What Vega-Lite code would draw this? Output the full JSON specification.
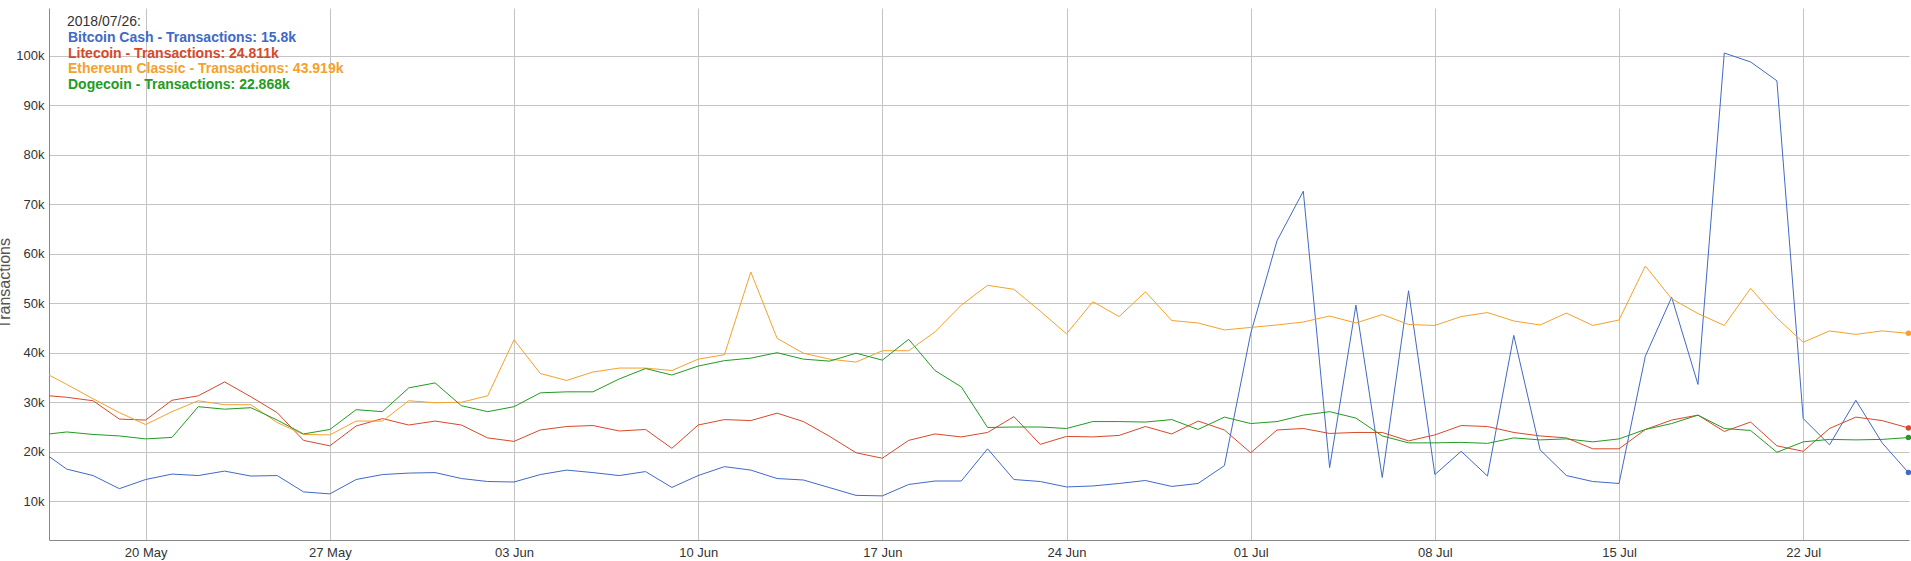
{
 "$schema": "https://vega.github.io/schema/vega-lite/v6.json",
 "width": 1860,
 "height": 532,
 "autosize": {"type": "none"},
 "padding": {"left": 49, "top": 8, "right": 2, "bottom": 21},
 "background": "white",
 "config": {"view": {"stroke": null}, "font": "Liberation Sans"},
 "data": {"values": [
  {"date":"2018-05-16","bch":20300,"ltc":31450,"etc":36400,"doge":23400},
  {"date":"2018-05-17","bch":16500,"ltc":31000,"etc":33600,"doge":24000},
  {"date":"2018-05-18","bch":15200,"ltc":30300,"etc":30700,"doge":23500},
  {"date":"2018-05-19","bch":12550,"ltc":26600,"etc":27900,"doge":23200},
  {"date":"2018-05-20","bch":14400,"ltc":26400,"etc":25500,"doge":22600},
  {"date":"2018-05-21","bch":15500,"ltc":30400,"etc":28100,"doge":22900},
  {"date":"2018-05-22","bch":15200,"ltc":31300,"etc":30300,"doge":29100},
  {"date":"2018-05-23","bch":16100,"ltc":34100,"etc":29500,"doge":28600},
  {"date":"2018-05-24","bch":15100,"ltc":31100,"etc":29500,"doge":28900},
  {"date":"2018-05-25","bch":15200,"ltc":27900,"etc":25900,"doge":26400},
  {"date":"2018-05-26","bch":11900,"ltc":22300,"etc":23500,"doge":23600},
  {"date":"2018-05-27","bch":11500,"ltc":21200,"etc":23400,"doge":24500},
  {"date":"2018-05-28","bch":14400,"ltc":25200,"etc":26200,"doge":28500},
  {"date":"2018-05-29","bch":15400,"ltc":26700,"etc":26200,"doge":28100},
  {"date":"2018-05-30","bch":15700,"ltc":25400,"etc":30300,"doge":32900},
  {"date":"2018-05-31","bch":15800,"ltc":26200,"etc":29900,"doge":33900},
  {"date":"2018-06-01","bch":14600,"ltc":25400,"etc":30000,"doge":29300},
  {"date":"2018-06-02","bch":14000,"ltc":22800,"etc":31300,"doge":28100},
  {"date":"2018-06-03","bch":13900,"ltc":22100,"etc":42600,"doge":29100},
  {"date":"2018-06-04","bch":15400,"ltc":24400,"etc":35800,"doge":31900},
  {"date":"2018-06-05","bch":16300,"ltc":25100,"etc":34400,"doge":32100},
  {"date":"2018-06-06","bch":15800,"ltc":25300,"etc":36100,"doge":32100},
  {"date":"2018-06-07","bch":15200,"ltc":24200,"etc":36900,"doge":34700},
  {"date":"2018-06-08","bch":16000,"ltc":24500,"etc":36900,"doge":36800},
  {"date":"2018-06-09","bch":12800,"ltc":20700,"etc":36400,"doge":35500},
  {"date":"2018-06-10","bch":15200,"ltc":25400,"etc":38700,"doge":37300},
  {"date":"2018-06-11","bch":17000,"ltc":26500,"etc":39600,"doge":38400},
  {"date":"2018-06-12","bch":16300,"ltc":26300,"etc":56300,"doge":38900},
  {"date":"2018-06-13","bch":14600,"ltc":27800,"etc":42900,"doge":40000},
  {"date":"2018-06-14","bch":14300,"ltc":26100,"etc":39900,"doge":38700},
  {"date":"2018-06-15","bch":12750,"ltc":23100,"etc":38700,"doge":38300},
  {"date":"2018-06-16","bch":11200,"ltc":19800,"etc":38100,"doge":39900},
  {"date":"2018-06-17","bch":11100,"ltc":18700,"etc":40400,"doge":38500},
  {"date":"2018-06-18","bch":13400,"ltc":22300,"etc":40400,"doge":42700},
  {"date":"2018-06-19","bch":14100,"ltc":23600,"etc":44200,"doge":36400},
  {"date":"2018-06-20","bch":14100,"ltc":23000,"etc":49600,"doge":33100},
  {"date":"2018-06-21","bch":20600,"ltc":23900,"etc":53600,"doge":24900},
  {"date":"2018-06-22","bch":14400,"ltc":27100,"etc":52800,"doge":25000},
  {"date":"2018-06-23","bch":14000,"ltc":21500,"etc":48400,"doge":25000},
  {"date":"2018-06-24","bch":12900,"ltc":23100,"etc":43800,"doge":24700},
  {"date":"2018-06-25","bch":13100,"ltc":23000,"etc":50300,"doge":26100},
  {"date":"2018-06-26","bch":13600,"ltc":23300,"etc":47300,"doge":26100},
  {"date":"2018-06-27","bch":14200,"ltc":25100,"etc":52300,"doge":26000},
  {"date":"2018-06-28","bch":13000,"ltc":23600,"etc":46500,"doge":26500},
  {"date":"2018-06-29","bch":13600,"ltc":26200,"etc":46000,"doge":24500},
  {"date":"2018-06-30","bch":17200,"ltc":24400,"etc":44600,"doge":27000},
  {"date":"2018-07-01","bch":43900,"ltc":19800,"etc":45100,"doge":25700},
  {"date":"2018-07-02","bch":62600,"ltc":24400,"etc":45600,"doge":26100},
  {"date":"2018-07-03","bch":72600,"ltc":24700,"etc":46200,"doge":27400},
  {"date":"2018-07-04","bch":16800,"ltc":23700,"etc":47400,"doge":28100},
  {"date":"2018-07-05","bch":49600,"ltc":23900,"etc":46000,"doge":26800},
  {"date":"2018-07-06","bch":14800,"ltc":23900,"etc":47700,"doge":23200},
  {"date":"2018-07-07","bch":52500,"ltc":22200,"etc":45700,"doge":21800},
  {"date":"2018-07-08","bch":15400,"ltc":23400,"etc":45500,"doge":21800},
  {"date":"2018-07-09","bch":20100,"ltc":25300,"etc":47300,"doge":21900},
  {"date":"2018-07-10","bch":15100,"ltc":25100,"etc":48100,"doge":21700},
  {"date":"2018-07-11","bch":43500,"ltc":23900,"etc":46400,"doge":22800},
  {"date":"2018-07-12","bch":20400,"ltc":23200,"etc":45600,"doge":22400},
  {"date":"2018-07-13","bch":15200,"ltc":22800,"etc":48000,"doge":22600},
  {"date":"2018-07-14","bch":14000,"ltc":20600,"etc":45500,"doge":22000},
  {"date":"2018-07-15","bch":13600,"ltc":20600,"etc":46600,"doge":22600},
  {"date":"2018-07-16","bch":39300,"ltc":24500,"etc":57500,"doge":24500},
  {"date":"2018-07-17","bch":51200,"ltc":26400,"etc":50900,"doge":25700},
  {"date":"2018-07-18","bch":33600,"ltc":27400,"etc":47900,"doge":27400},
  {"date":"2018-07-19","bch":100500,"ltc":24100,"etc":45500,"doge":24700},
  {"date":"2018-07-20","bch":98700,"ltc":26000,"etc":53000,"doge":24300},
  {"date":"2018-07-21","bch":94900,"ltc":21200,"etc":47000,"doge":19900},
  {"date":"2018-07-22","bch":26700,"ltc":20100,"etc":42100,"doge":22000},
  {"date":"2018-07-23","bch":21400,"ltc":24700,"etc":44400,"doge":22500},
  {"date":"2018-07-24","bch":30400,"ltc":27000,"etc":43700,"doge":22400},
  {"date":"2018-07-25","bch":21800,"ltc":26300,"etc":44400,"doge":22500},
  {"date":"2018-07-26","bch":15800,"ltc":24811,"etc":43919,"doge":22868}
 ]},
 "transform": [{"fold": ["bch", "ltc", "etc", "doge"], "as": ["series", "value"]}],
 "encoding": {
  "x": {
   "field": "date", "type": "temporal",
   "scale": {"type": "utc", "domain": [1526457000000, 1532565000000], "nice": false},
   "axis": {
    "title": null,
    "values": [1526774400000, 1527379200000, 1527984000000, 1528588800000, 1529193600000, 1529798400000, 1530403200000, 1531008000000, 1531612800000, 1532217600000],
    "labelExpr": "utcFormat(datum.value, '%d %b')",
    "labelFont": "Liberation Sans", "labelFontSize": 13, "labelColor": "#333333",
    "ticks": false, "labelPadding": 6,
    "grid": true, "gridColor": "#c4c4c4", "gridWidth": 1,
    "domainColor": "#888888", "domainWidth": 1
   }
  },
  "y": {
   "field": "value", "type": "quantitative",
   "scale": {"domain": [2190, 109590], "nice": false, "zero": false},
   "axis": {
    "title": "Transactions",
    "values": [10000, 20000, 30000, 40000, 50000, 60000, 70000, 80000, 90000, 100000],
    "format": "~s",
    "labelFont": "Liberation Sans", "labelFontSize": 13, "labelColor": "#333333",
    "ticks": false, "labelPadding": 5,
    "grid": true, "gridColor": "#c4c4c4", "gridWidth": 1,
    "domainColor": "#888888", "domainWidth": 1,
    "titleFont": "Liberation Sans", "titleFontSize": 16, "titleFontWeight": "normal", "titleColor": "#555555",
    "titleAngle": 270, "titleX": -40, "titleY": 275, "titleAlign": "center", "titleBaseline": "alphabetic"
   }
  },
  "color": {
   "field": "series", "type": "nominal",
   "scale": {"domain": ["bch", "ltc", "etc", "doge"], "range": ["#4169c8", "#d8482a", "#f5a12b", "#229b22"]},
   "legend": {
    "orient": "none", "legendX": 18, "legendY": 7,
    "title": "2018/07/26:", "titleFont": "Liberation Sans", "titleFontSize": 14, "titleFontWeight": "normal", "titleColor": "#333333", "titlePadding": 2,
    "labelFont": "Liberation Sans", "labelFontSize": 14, "labelFontWeight": "bold", "labelLimit": 500,
    "symbolSize": 0, "symbolOpacity": 0, "symbolStrokeWidth": 0, "labelOffset": -13, "rowPadding": 1.7, "padding": 0,
    "labelExpr": "datum.value == 'bch' ? 'Bitcoin Cash - Transactions: 15.8k' : datum.value == 'ltc' ? 'Litecoin - Transactions: 24.811k' : datum.value == 'etc' ? 'Ethereum Classic - Transactions: 43.919k' : 'Dogecoin - Transactions: 22.868k'",
    "encode": {"labels": {"update": {"fill": {"scale": "color", "field": "value"}}}}
   }
  }
 },
 "layer": [
  {"mark": {"type": "line", "strokeWidth": 1, "clip": true}},
  {"transform": [{"filter": "time(datum.date) == utc(2018, 6, 26)"}],
   "mark": {"type": "point", "filled": true, "size": 30, "opacity": 1}}
 ]
}
